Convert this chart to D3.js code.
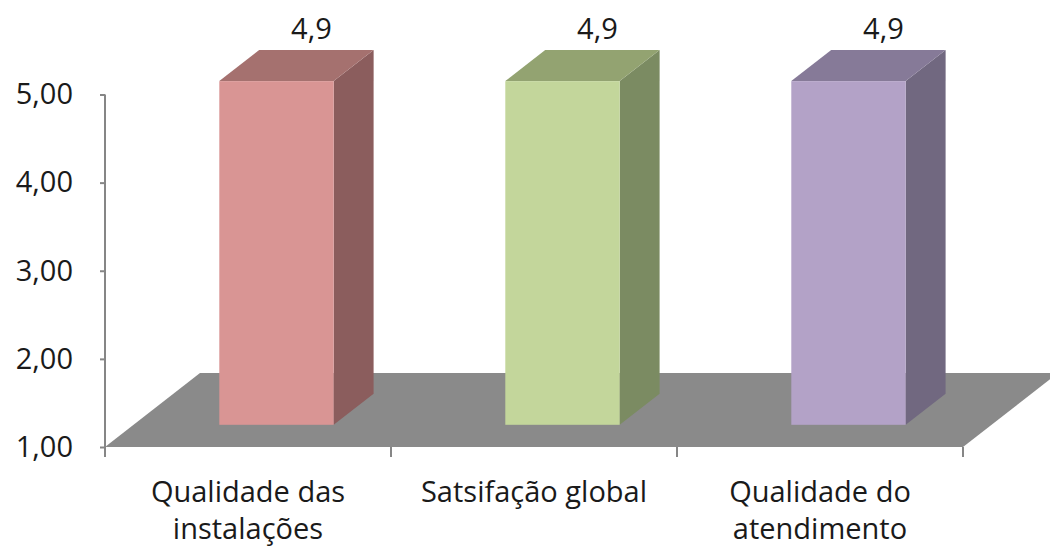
<!DOCTYPE html>
<html>
<head>
<meta charset="utf-8">
<script src="https://cdn.jsdelivr.net/npm/d3@7"></script>
<style>
	body {margin:0; background:#fff;}
	text {font-family:"Open Sans", "Noto Sans", sans-serif; fill:#1a1a1a;}
</style>
</head>
<body>
<div id="chart"></div>
<script>
// values
var categories = [["Qualidade das", "instalações"], ["Satsifação global"], ["Qualidade do", "atendimento"]];
var values = [4.9, 4.9, 4.9];
var valueLabels = ["4,9", "4,9", "4,9"];
var yTicks = [1, 2, 3, 4, 5];
var frontColors = ["#d99594", "#c3d69b", "#b3a2c7"];
var sideColors = ["#8b5d5d", "#7b8b62", "#716880"];
var topColors = ["#a5716f", "#93a371", "#867a98"];

var width = 1050, height = 547;
var depthX = 95, depthY = -74;   // floor depth vector
var d0 = 0.3, d1 = 0.72;          // bar depth from front to back
var fs = 29;

var svg = d3.select("#chart").append("svg")
	.attr("width", width)
	.attr("height", height);

var y = d3.scaleLinear().domain([1, 5]).range([447, 94.5]);
var x = d3.scaleBand().domain(d3.range(categories.length))
	.range([105, 963]).paddingInner(0.6).paddingOuter(0.3);
var step = x.step();
var x0 = x.range()[0], x1 = x.range()[1];

// floor
var base = y(1);
svg.append("polygon")
	.attr("points", [[x0, base], [x1, base], [x1+depthX, base+depthY], [x0+depthX, base+depthY]].join(" "))
	.attr("fill", "#8a8a8a");

// y axis
var yAxis = d3.axisLeft(y).tickValues(yTicks).tickSizeInner(5).tickSizeOuter(0).tickPadding(27)
	.tickFormat(function(d){return d3.format(".2f")(d).replace(".", ",");});
var gy = svg.append("g").attr("transform", "translate(" + x0 + ",0)").call(yAxis);
gy.select(".domain").remove();
gy.selectAll(".tick line").attr("stroke", "#868686").attr("stroke-width", 2);
gy.selectAll("text").attr("font-size", fs).attr("fill", "#1a1a1a").style("font-family", "'Open Sans', sans-serif");
svg.append("line")
	.attr("x1", x0).attr("x2", x0)
	.attr("y1", y(5)).attr("y2", base + 10)
	.attr("stroke", "#868686").attr("stroke-width", 2);

// x axis ticks at category boundaries
var bounds = d3.range(categories.length).map(function(i){return x0 + (i+1)*step;});
svg.selectAll(".xtick").data(bounds).enter().append("line")
	.attr("class", "xtick")
	.attr("x1", function(d){return d;}).attr("x2", function(d){return d;})
	.attr("y1", base).attr("y2", base + 10)
	.attr("stroke", "#868686").attr("stroke-width", 2);

// bars
var bars = svg.selectAll(".bar").data(values).enter().append("g").attr("class", "bar");
function pt(px, py, d){return [px + d*depthX, py + d*depthY];}
bars.each(function(v, i){
	var g = d3.select(this);
	var l = x(i), r = x(i) + x.bandwidth();
	var top = y(v), bot = base;
	// side face
	g.append("polygon")
		.attr("points", [pt(r, bot, d0), pt(r, bot, d1), pt(r, top, d1), pt(r, top, d0)].join(" "))
		.attr("fill", sideColors[i]);
	// top face
	g.append("polygon")
		.attr("points", [pt(l, top, d0), pt(r, top, d0), pt(r, top, d1), pt(l, top, d1)].join(" "))
		.attr("fill", topColors[i]);
	// front face
	var a = pt(l, top, d0), b = pt(r, bot, d0);
	g.append("rect")
		.attr("x", a[0]).attr("y", a[1])
		.attr("width", b[0]-a[0]).attr("height", b[1]-a[1])
		.attr("fill", frontColors[i]);
	// value label above the top face
	var c = pt((l+r)/2, top, d1);
	g.append("text")
		.attr("x", c[0] - 5).attr("y", c[1] - 11)
		.attr("text-anchor", "middle")
		.attr("font-size", fs)
		.text(valueLabels[i]);
});

// category labels
svg.selectAll(".cat").data(categories).enter().append("text")
	.attr("class", "cat")
	.attr("text-anchor", "middle")
	.attr("font-size", fs)
	.each(function(lines, i){
		var t = d3.select(this);
		lines.forEach(function(s, k){
			t.append("tspan")
				.attr("x", x(i) + x.bandwidth()/2)
				.attr("y", 502 + k*37)
				.text(s);
		});
	});
</script>
</body>
</html>
